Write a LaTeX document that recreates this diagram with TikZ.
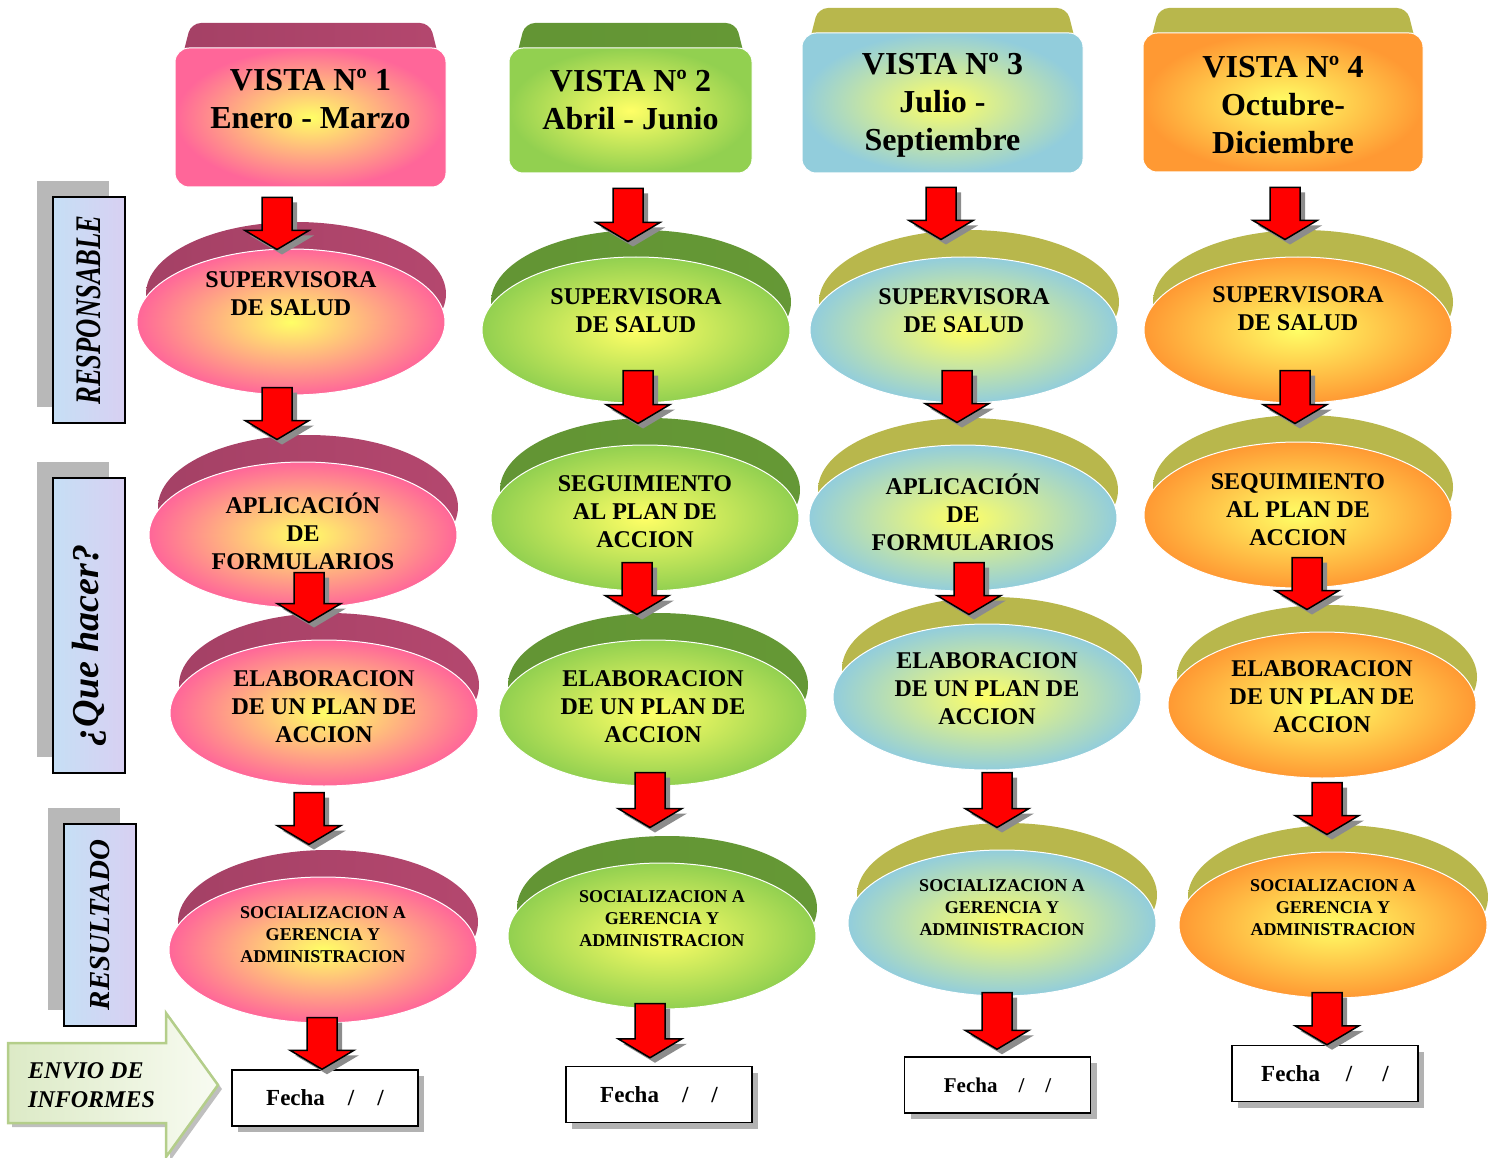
\documentclass[tikz,border=0pt]{standalone}
\usepackage{graphicx}
\usepackage{fontspec}
\setmainfont{Liberation Serif}
\usepackage{tikz}
\usetikzlibrary{positioning,shapes.geometric,shadows,calc}

\definecolor{glow}{HTML}{FFFF66}
\definecolor{rosa}{HTML}{FF6699}
\definecolor{rosaosc}{HTML}{943A5C}
\definecolor{verde}{HTML}{92D050}
\definecolor{verdeosc}{HTML}{5A8A2F}
\definecolor{celeste}{HTML}{92CDDC}
\definecolor{naranja}{HTML}{FF9933}
\definecolor{oliva}{HTML}{9A983E}
\definecolor{olivaclaro}{HTML}{B8B74C}
\definecolor{papel}{HTML}{C6DFF5}
\definecolor{lila}{HTML}{D8D0F2}
\definecolor{envioA}{HTML}{DCEAC6}
\definecolor{envioB}{HTML}{F8FBF1}
\definecolor{envioborde}{HTML}{B4CE8A}

\tikzset{
  pinkface/.style={inner color=glow, outer color=rosa},
  pinkband/.style={left color=rosaosc!85!rosa, middle color=rosaosc, right color=rosaosc!70!rosa},
  greenface/.style={inner color=glow, outer color=verde},
  greenband/.style={left color=verdeosc!85!verde, middle color=verdeosc, right color=verdeosc!80!verde},
  blueface/.style={inner color=glow, outer color=celeste},
  blueband/.style={left color=olivaclaro, middle color=oliva, right color=olivaclaro},
  orangeface/.style={inner color=glow, outer color=naranja},
  orangeband/.style={left color=olivaclaro, middle color=oliva, right color=olivaclaro},
  vistabox/.style={rectangle, rounded corners=14pt, draw=white, line width=1pt, inner sep=0pt},
  vistatext/.style={font=\fontsize{32}{38}\selectfont\bfseries, align=center, inner sep=0pt},
  disc/.style={ellipse, minimum width=308pt, minimum height=146pt, inner sep=0pt, draw=white, line width=1pt},
  disctext/.style={font=\fontsize{24}{28}\selectfont\bfseries, align=center, inner sep=0pt},
  soctext/.style={font=\fontsize{18}{22}\selectfont\bfseries, align=center, inner sep=0pt},
  fechabox/.style={draw, line width=1.5pt, fill=white, minimum width=186pt, minimum height=56pt,
    font=\fontsize{23}{27}\selectfont\bfseries,
    drop shadow={shadow xshift=6pt, shadow yshift=-6pt, fill=black!30, opacity=1}},
  sidebox/.style={draw, line width=1.5pt, left color=papel, right color=lila, minimum width=72pt,
    inner sep=0pt, drop shadow={shadow xshift=-16pt, shadow yshift=16pt, fill=black!28, opacity=1}},
  enviotext/.style={font=\fontsize{24}{29}\selectfont\bfseries\itshape, align=left, inner sep=0pt},
  blockarr/.style={draw=black, line width=1.5pt, fill=red,
    drop shadow={shadow xshift=5pt, shadow yshift=-5pt, fill=black!45, opacity=1},
    to path={let \p1=(\tikztostart), \p2=(\tikztotarget) in
      (\x1-15pt,\y1) -- (\x1-15pt,\y2+19pt) -- (\x1-32pt,\y2+19pt) -- (\x1,\y2)
      -- (\x1+32pt,\y2+19pt) -- (\x1+15pt,\y2+19pt) -- (\x1+15pt,\y1) -- cycle}}
}

% name, x, y, width, height, colour, text y, text
\newcommand{\vista}[8]{%
  \shade[#6band, rounded corners=10pt] ({#2-#4/2+2},{#3-#5/2+30}) -- ({#2-#4/2+16},{#3-#5/2-25})
    -- ({#2+#4/2-16},{#3-#5/2-25}) -- ({#2+#4/2-2},{#3-#5/2+30}) -- cycle;
  \node[vistabox, #6face, minimum width=#4pt, minimum height=#5pt] (#1) at (#2,#3) {};
  \node[vistatext] (#1t) at (#2,#7) {#8};
}
% name, x, y, colour, text y, text style, text
\newcommand{\disco}[7]{%
  \shade[#4band] ({#2+5},{#3-28}) ellipse [x radius=150, y radius=72];
  \node[disc, #4face] (#1) at (#2,#3) {};
  \node[#6] (#1t) at (#2,#5) {#7};
}

\begin{document}
\begin{tikzpicture}[x=1pt, y=-1pt]
\useasboundingbox (0,0) rectangle (1489,1158);

\node[sidebox, minimum height=226pt] (resp) at (89,310)
  {\rotatebox{90}{\fontsize{36}{36}\selectfont\bfseries\itshape\scalebox{0.74}[1]{RESPONSABLE}}};
\node[sidebox, minimum height=295pt] (hacer) at (89,625.5)
  {\rotatebox{90}{\fontsize{38}{38}\selectfont\bfseries\itshape ¿Que hacer?\hspace{40pt}}};
\node[sidebox, minimum height=202pt] (result) at (100,925)
  {\rotatebox{90}{\fontsize{29}{29}\selectfont\bfseries\itshape RESULTADO}};

\shade[left color=envioA, right color=envioB, draw=envioborde, line width=2.5pt,
  drop shadow={shadow xshift=4pt, shadow yshift=-4pt, fill=black!25, opacity=1}]
  (8,1043) -- (166,1043) -- (166,1013) -- (218,1085) -- (166,1157) -- (166,1123) -- (8,1123) -- cycle;
\node[enviotext, anchor=west] (envio) at (28,1085) {ENVIO DE\\INFORMES};

\vista{h1}{310.5}{117.5}{271}{139}{pink}{99}{VISTA Nº 1\\Enero - Marzo}
\vista{h2}{630.5}{110.5}{243}{125}{green}{100}{VISTA Nº 2\\Abril - Junio}
\vista{h3}{942.5}{103}{281}{140}{blue}{105}{VISTA Nº 3\\Julio -\\Septiembre}
\vista{h4}{1283}{102.5}{280}{139}{orange}{105}{VISTA Nº 4\\Octubre-\\Diciembre}

\disco{e11}{291}{322}{pink}{294}{disctext}{SUPERVISORA\\DE SALUD}
\disco{e12}{303}{535}{pink}{531}{disctext}{APLICACIÓN\\DE\\FORMULARIOS}
\disco{e13}{324}{713}{pink}{707}{disctext}{ELABORACION\\DE UN PLAN DE\\ACCION}
\disco{e14}{323}{950}{pink}{935}{soctext}{SOCIALIZACION A\\GERENCIA Y\\ADMINISTRACION}

\disco{e21}{636}{330}{green}{311}{disctext}{SUPERVISORA\\DE SALUD}
\disco{e22}{645}{518}{green}{512}{disctext}{SEGUIMIENTO\\AL PLAN DE\\ACCION}
\disco{e23}{653}{713}{green}{707}{disctext}{ELABORACION\\DE UN PLAN DE\\ACCION}
\disco{e24}{662}{936}{green}{919}{soctext}{SOCIALIZACION A\\GERENCIA Y\\ADMINISTRACION}

\disco{e31}{964}{330}{blue}{311}{disctext}{SUPERVISORA\\DE SALUD}
\disco{e32}{963}{518}{blue}{512}{disctext}{APLICACIÓN\\DE\\FORMULARIOS}
\disco{e33}{987}{697}{blue}{689}{disctext}{ELABORACION\\DE UN PLAN DE\\ACCION}
\disco{e34}{1002}{923}{blue}{908}{soctext}{SOCIALIZACION A\\GERENCIA Y\\ADMINISTRACION}

\disco{e41}{1298}{330}{orange}{309}{disctext}{SUPERVISORA\\DE SALUD}
\disco{e42}{1298}{515}{orange}{510}{disctext}{SEQUIMIENTO\\AL PLAN DE\\ACCION}
\disco{e43}{1322}{705}{orange}{697}{disctext}{ELABORACION\\DE UN PLAN DE\\ACCION}
\disco{e44}{1333}{925}{orange}{908}{soctext}{SOCIALIZACION A\\GERENCIA Y\\ADMINISTRACION}

\node[fechabox] (f1) at (325,1098) {Fecha\quad/\quad/};
\node[fechabox] (f2) at (659,1094.5) {Fecha\quad/\quad/};
\node[fechabox, font=\fontsize{21}{25}\selectfont\bfseries] (f3) at (997.5,1085) {Fecha\quad/\quad/};
\node[fechabox] (f4) at (1325,1073.5) {Fecha\hspace{26pt}/\hspace{30pt}/};

\draw[blockarr] ([shift={(-33.5,10)}]h1.south) to ([shift={(0,1)}]e11.north);
\draw[blockarr] ([shift={(-14,-8)}]e11.south) to ([shift={(0,-22)}]e12.north);
\draw[blockarr] ([shift={(6,-36)}]e12.south) to ([shift={(0,-17)}]e13.north);
\draw[blockarr] ([shift={(-15,6)}]e13.south) to ([shift={(0,-32)}]e14.north);
\draw[blockarr] ([shift={(-1,-6)}]e14.south) to (f1.north);

\draw[blockarr] ([shift={(-2.5,15)}]h2.south) to ([shift={(0,-15)}]e21.north);
\draw[blockarr] ([shift={(2,-33)}]e21.south) to ([shift={(0,-21)}]e22.north);
\draw[blockarr] ([shift={(-8,-29)}]e22.south) to ([shift={(0,-25)}]e23.north);
\draw[blockarr] ([shift={(-3,-14)}]e23.south) to ([shift={(0,-35)}]e24.north);
\draw[blockarr] ([shift={(-12,-6)}]e24.south) to ([shift={(0,-8)}]f2.north);

\draw[blockarr] ([shift={(-1.5,14)}]h3.south) to ([shift={(0,-17)}]e31.north);
\draw[blockarr] ([shift={(-7,-33)}]e31.south) to ([shift={(0,-22)}]e32.north);
\draw[blockarr] ([shift={(6,-29)}]e32.south) to ([shift={(0,-9)}]e33.north);
\draw[blockarr] ([shift={(10,2)}]e33.south) to ([shift={(0,-22)}]e34.north);
\draw[blockarr] ([shift={(-5,-4)}]e34.south) to ([shift={(0,-7)}]f3.north);

\draw[blockarr] ([shift={(2,15)}]h4.south) to ([shift={(0,-17)}]e41.north);
\draw[blockarr] ([shift={(-3,-33)}]e41.south) to ([shift={(0,-18)}]e42.north);
\draw[blockarr] ([shift={(9,-31)}]e42.south) to ([shift={(0,-22)}]e43.north);
\draw[blockarr] ([shift={(5,4)}]e43.south) to ([shift={(0,-17)}]e44.north);
\draw[blockarr] ([shift={(-6,-6)}]e44.south) to (f4.north);
\end{tikzpicture}
\end{document}
